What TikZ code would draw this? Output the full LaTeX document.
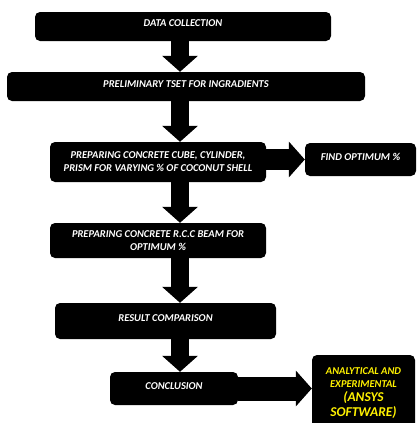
\documentclass[tikz,border=0pt]{standalone}
\usepackage{fontspec}
\setmainfont{Carlito}
\usetikzlibrary{arrows.meta,positioning}

\begin{document}
\begin{tikzpicture}[
    x=1pt,y=-1pt,
    stage/.style={rectangle,rounded corners=5pt,fill=black,text=white,
        align=center,inner sep=2pt,
        font=\fontsize{10.5}{13}\selectfont\bfseries\itshape},
    lifted/.style={text height=7pt,text depth=6pt},
    flow/.style={draw=black,line width=18pt,
        -{Triangle[width=35pt,length=16pt]}},
    sideflow/.style={draw=black,line width=21pt,
        -{Triangle[width=35pt,length=16pt]}},
]

\useasboundingbox (0,0) rectangle (417,423);

%----------------------------------
% Main column
%----------------------------------

\coordinate (spine) at (180,0);

\node[stage,lifted,minimum width=296pt,minimum height=29pt] (collect) at (183,26.5) {DATA COLLECTION};

\node[stage,lifted,minimum width=358pt,minimum height=29pt] (prelim) at (186,86.5) {PRELIMINARY TSET FOR INGRADIENTS};

\node[stage,minimum width=216pt,minimum height=40pt] (cube) at (158,162) {PREPARING CONCRETE CUBE, CYLINDER,\\PRISM FOR VARYING \% OF COCONUT SHELL};

\node[stage,minimum width=216pt,minimum height=35pt] (beam) at (158,240.5) {PREPARING CONCRETE R.C.C BEAM FOR\\OPTIMUM \%};

\node[stage,lifted,minimum width=221pt,minimum height=36pt] (result) at (165.5,321) {RESULT COMPARISON};

\node[stage,lifted,minimum width=128pt,minimum height=33pt] (concl) at (174,388.5) {CONCLUSION};

%----------------------------------
% Side boxes
%----------------------------------

\node[stage,lifted,minimum width=111pt,minimum height=33pt] (optimum) at (360.5,159.5) {FIND OPTIMUM \%};

\node[stage,text=yellow,minimum width=103pt,minimum height=77pt] (ansys) at (363.5,393.5) {ANALYTICAL AND\\EXPERIMENTAL\\[1pt]{\fontsize{13.5}{17}\selectfont (ANSYS}\\[2pt]{\fontsize{13.5}{17}\selectfont SOFTWARE)}};

%----------------------------------
% Block arrows
%----------------------------------

\draw[flow] (collect.south -| spine) -- (prelim.north -| spine);
\draw[flow] (prelim.south -| spine) -- (cube.north -| spine);
\draw[flow] (cube.south -| spine) -- (beam.north -| spine);
\draw[flow] (beam.south -| spine) -- (result.north -| spine);
\draw[flow] (result.south -| spine) -- (concl.north -| spine);

\draw[sideflow] (cube.east |- optimum.west) -- (optimum.west);
\draw[sideflow,line width=24pt] (concl.east) -- (concl.east -| ansys.west);

\end{tikzpicture}
\end{document}
